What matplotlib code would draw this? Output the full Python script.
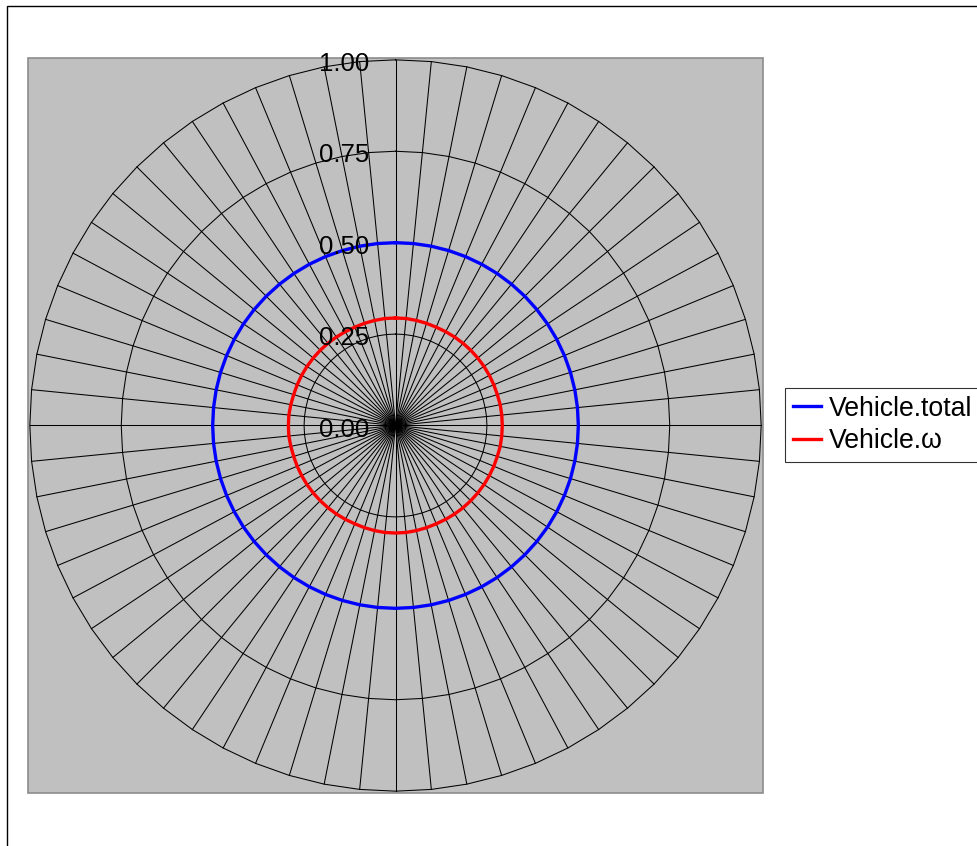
import numpy as np
import matplotlib
matplotlib.use('Agg')
import matplotlib.pyplot as plt
from matplotlib.patches import Rectangle

plt.rcParams['font.family'] = ['Liberation Sans', 'DejaVu Sans']

# 64 spokes of the radar chart
n_spokes = 64
categories = list(range(1, n_spokes + 1))

total_values = [0.50] * n_spokes
omega_values = [
  0.294, 0.294, 0.293, 0.292, 0.291, 0.291, 0.291, 0.291,
  0.291, 0.291, 0.291, 0.291, 0.291, 0.291, 0.292, 0.292,
  0.292, 0.292, 0.292, 0.291, 0.291, 0.291, 0.291, 0.291,
  0.291, 0.291, 0.291, 0.291, 0.291, 0.292, 0.293, 0.294,
  0.294, 0.294, 0.293, 0.292, 0.291, 0.291, 0.291, 0.291,
  0.291, 0.291, 0.291, 0.291, 0.291, 0.291, 0.292, 0.293,
  0.293, 0.293, 0.292, 0.291, 0.291, 0.291, 0.291, 0.291,
  0.291, 0.291, 0.291, 0.291, 0.291, 0.292, 0.293, 0.294,
]

r_ticks = [0.0, 0.25, 0.5, 0.75, 1.0]
r_tick_labels = ['0.00', '0.25', '0.50', '0.75', '1.00']

W, H = 977, 846
fig = plt.figure(figsize=(W / 100, H / 100), dpi=100)

# outer chart border
fig.patches.append(Rectangle((7 / W, -0.01), 1.0, 1 - 6 / H + 0.01, transform=fig.transFigure,
                             facecolor='white', edgecolor='black', linewidth=1.0, zorder=-2))
# gray plot area
px0, py0, pw, ph = 28, 58, 735, 735
fig.patches.append(Rectangle((px0 / W, 1 - (py0 + ph) / H), pw / W, ph / H, transform=fig.transFigure,
                             facecolor='#c0c0c0', edgecolor='#8c8c8c', linewidth=1.2, zorder=-1))

ax = fig.add_axes([px0 / W, 1 - (py0 + ph) / H, pw / W, ph / H], projection='polar')
ax.set_theta_zero_location('N')
ax.set_theta_direction(-1)
ax.patch.set_alpha(0)
ax.spines['polar'].set_visible(False)
ax.grid(False)
ax.set_xticks([])
ax.set_yticks([])
ax.set_ylim(0, 1.005)

theta = np.linspace(0, 2 * np.pi, n_spokes, endpoint=False)
theta_closed = np.append(theta, theta[0])

# spokes
for t in theta:
  ax.plot([t, t], [0, 1.0], color='black', linewidth=0.75, zorder=1)
# ring polygons
for r in r_ticks[1:]:
  ax.plot(theta_closed, [r] * (n_spokes + 1), color='black', linewidth=0.75, zorder=1)

ax.plot(theta_closed, total_values + total_values[:1], color='#0000ff', linewidth=2.4,
        label='Vehicle.total', zorder=3)
ax.plot(theta_closed, omega_values + omega_values[:1], color='#ff0000', linewidth=2.4,
        label='Vehicle.ω', zorder=3)

for r, lbl in zip(r_ticks, r_tick_labels):
  ax.annotate(lbl, xy=(0, r), xytext=(-19, -3), textcoords='offset points',
              ha='right', va='center', fontsize=18.5, color='black', zorder=4,
              annotation_clip=False)

leg = fig.legend(loc='center left', bbox_to_anchor=(785 / W, 1 - 425 / H), fontsize=19.2,
                 frameon=True, fancybox=False, edgecolor='black', handlelength=1.05,
                 handletextpad=0.3, borderpad=0.3, labelspacing=0.25, borderaxespad=0)
leg.get_frame().set_linewidth(0.8)
for line in leg.get_lines():
  line.set_linewidth(2.4)

fig.savefig('out.png', dpi=100)
